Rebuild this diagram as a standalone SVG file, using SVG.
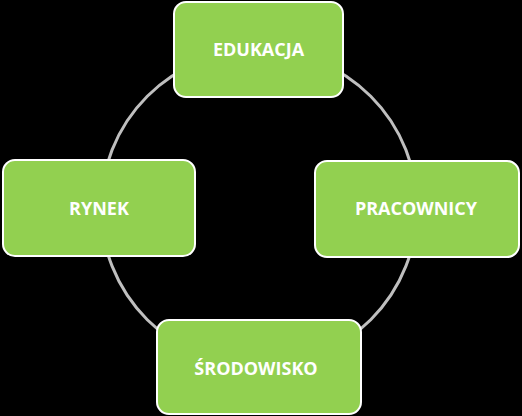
<svg xmlns="http://www.w3.org/2000/svg" width="522" height="416" viewBox="0 0 522 416">
<style>
.box{fill:#92d050;stroke:#ffffff;stroke-width:2}
.lbl{fill:#ffffff;font-family:"Open Sans","Liberation Sans",sans-serif;font-weight:bold;font-size:18px;text-anchor:middle}
.ring{fill:none;stroke:#bfbfbf;stroke-width:3}
</style>
<rect x="0" y="0" width="522" height="416" fill="#000000"/>
<g id="connectors">
<circle class="ring" cx="259" cy="208" r="158"/>
</g>
<g id="edukacja">
<rect class="box" x="174" y="2" width="169" height="95" rx="12"/>
<text class="lbl" x="258.5" y="56">EDUKACJA</text>
</g>
<g id="rynek">
<rect class="box" x="3" y="160" width="192" height="96" rx="12"/>
<text class="lbl" x="99" y="214.5">RYNEK</text>
</g>
<g id="pracownicy">
<rect class="box" x="315" y="161" width="204" height="96" rx="12"/>
<text class="lbl" x="416" y="214.5">PRACOWNICY</text>
</g>
<g id="srodowisko">
<rect class="box" x="157" y="320" width="204" height="94" rx="12"/>
<text class="lbl" x="256" y="374.5">ŚRODOWISKO</text>
</g>
</svg>
